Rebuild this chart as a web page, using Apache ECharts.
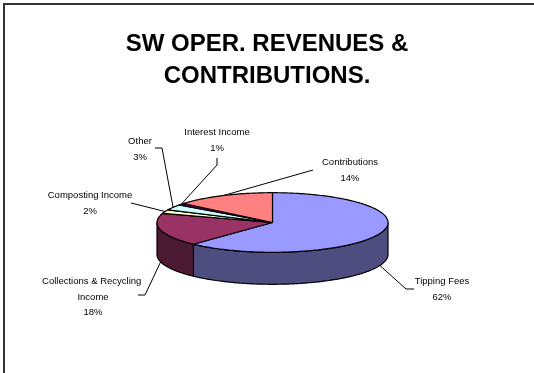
<!DOCTYPE html>
<html>
<head>
<meta charset="utf-8">
<title>SW Oper. Revenues &amp; Contributions</title>
<script src="https://cdn.jsdelivr.net/npm/echarts@6/dist/echarts.min.js"></script>
<style>
  html, body { margin: 0; background: #fff; }
  #main { width: 534px; height: 373px; }
</style>
</head>
<body>
<div id="main"></div>
<script>
// slices, clockwise from 12 o'clock
var categories = ['Tipping Fees', 'Collections & Recycling Income', 'Composting Income', 'Other', 'Interest Income', 'Contributions'];
var values = [62, 18, 2, 3, 1, 14];

var colors = ['#9999ff', '#993366', '#ffffcc', '#ccffff', '#660066', '#ff8080'];
var sideColors = ['#4d4d80', '#4d1a33', '#80806a', '#668080', '#330033', '#804040'];

// tilted disc geometry
var cx = 272.5, cy = 222.5, rx = 115.5, ry = 29.8, depth = 32;

// label blocks (top centre), leader elbows, wrap width, leader ends on rim bottom
var labelLayout = [
  { x: 442, y: 274, w: 90, elbow: [[414, 289], [406, 289]], rim: true },
  { x: 93, y: 274, w: 112, elbow: [[138, 295], [145, 295]], rim: true },
  { x: 90, y: 188, w: 100, elbow: [[131, 203]], rim: false },
  { x: 140, y: 134, w: 60, elbow: [[155, 148], [162, 148]], rim: false },
  { x: 217, y: 125, w: 90, elbow: [[217, 158], [217, 165]], rim: false },
  { x: 350, y: 155, w: 90, elbow: [[313, 170]], rim: false }
];

var total = values.reduce(function (s, v) { return s + v; }, 0);
var starts = [], ends = [];
var acc = 0;
values.forEach(function (v) {
  starts.push(acc / total);
  acc += v;
  ends.push(acc / total);
});

function pt(frac, dy) {
  var t = frac * 2 * Math.PI;
  return [cx + rx * Math.sin(t), cy - ry * Math.cos(t) + (dy || 0)];
}

function arc(a, b, dy) {
  var n = Math.max(2, Math.ceil(Math.abs(b - a) * 360));
  var pts = [];
  for (var k = 0; k <= n; k++) {
    pts.push(pt(a + (b - a) * k / n, dy));
  }
  return pts;
}

var chart = echarts.init(document.getElementById('main'));

var sliceData = values.map(function (v, i) { return [i, v]; });

var option = {
  backgroundColor: '#fff',
  animation: false,
  title: {
    text: 'SW OPER. REVENUES &\nCONTRIBUTIONS.',
    left: 'center',
    top: 23,
    textStyle: {
      fontFamily: '"Liberation Sans", Arial, sans-serif',
      fontWeight: 'bold',
      fontSize: 24,
      lineHeight: 32,
      color: '#000'
    }
  },
  graphic: [{
    type: 'rect',
    silent: true,
    shape: { x: 4, y: 4, width: 600, height: 500 },
    style: { fill: 'none', stroke: '#333', lineWidth: 2 }
  }],
  series: [
    {
      // front rim of the disc
      type: 'custom',
      coordinateSystem: 'none',
      silent: true,
      z: 1,
      data: sliceData,
      renderItem: function (params, api) {
        var i = params.dataIndex;
        var a = Math.max(starts[i], 0.25), b = Math.min(ends[i], 0.75);
        if (b <= a) return null;
        var pts = arc(a, b, 0).concat(arc(b, a, depth));
        return {
          type: 'polygon',
          shape: { points: pts },
          style: { fill: sideColors[i], stroke: '#000', lineWidth: 1.2, lineJoin: 'round' }
        };
      }
    },
    {
      // top face
      type: 'custom',
      coordinateSystem: 'none',
      silent: true,
      z: 2,
      data: sliceData,
      renderItem: function (params, api) {
        var i = params.dataIndex;
        var pts = [[cx, cy]].concat(arc(starts[i], ends[i], 0));
        return {
          type: 'polygon',
          shape: { points: pts },
          style: { fill: colors[i], stroke: '#000', lineWidth: 1.2, lineJoin: 'round' }
        };
      }
    },
    {
      // labels and leader lines
      type: 'custom',
      coordinateSystem: 'none',
      silent: true,
      z: 3,
      data: sliceData,
      renderItem: function (params, api) {
        var i = params.dataIndex;
        var lay = labelLayout[i];
        var mid = (starts[i] + ends[i]) / 2;
        var end = pt(mid, lay.rim ? depth : 0);
        var pct = Math.round(values[i] / total * 100) + '%';
        return {
          type: 'group',
          children: [
            {
              type: 'polyline',
              shape: { points: lay.elbow.concat([end]) },
              style: { stroke: '#000', lineWidth: 1, fill: null }
            },
            {
              type: 'text',
              style: {
                text: categories[i] + '\n' + pct,
                x: lay.x,
                y: lay.y,
                width: lay.w,
                overflow: 'break',
                align: 'center',
                verticalAlign: 'top',
                fontFamily: '"Liberation Sans", Arial, sans-serif',
                fontSize: 9.5,
                lineHeight: 15.5,
                fill: '#000'
              }
            }
          ]
        };
      }
    }
  ]
};

chart.setOption(option);
</script>
</body>
</html>
